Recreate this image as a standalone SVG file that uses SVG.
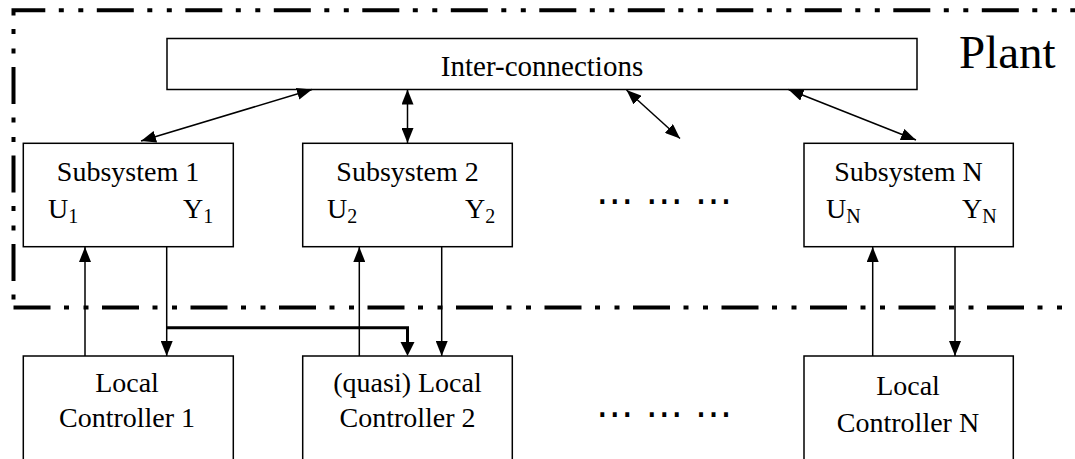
<svg xmlns="http://www.w3.org/2000/svg" width="1075" height="459" viewBox="0 0 1075 459">
<style>
.box{fill:#fff;stroke:#000;stroke-width:1.5}
.t{font-family:"Liberation Serif","Times New Roman",serif;font-size:28px;fill:#000}
.c{text-anchor:middle}
.sub{font-size:20px}
.ln{stroke:#000;stroke-width:1.5;fill:none}
.thick{stroke:#000;stroke-width:3;fill:none}
.bd{stroke:#000;stroke-width:4;fill:none;stroke-dasharray:37 13.5 5 14.5 5 13.5}
.dots{font-family:"DejaVu Sans",sans-serif;font-size:37.5px;fill:#000}
</style>
<defs>
<marker id="ah" viewBox="0 0 15 12" refX="15" refY="6" markerWidth="15" markerHeight="12" markerUnits="userSpaceOnUse" orient="auto-start-reverse">
<path d="M0,0 L15,6 L0,12 z" fill="#000"/>
</marker>
</defs>
<rect width="1075" height="459" fill="#fff"/>
<g id="plant-boundary">
<path class="bd" d="M13.5,307.5 L13.5,10.3 L1085,10.3" stroke-dashoffset="62"/>
<path class="bd" d="M13.5,307.5 L1085,307.5"/>
<text class="t" x="959" y="68" style="font-size:47px">Plant</text>
</g>
<g id="interconnections">
<rect class="box" x="167" y="38.5" width="750" height="51"/>
<text class="t c" x="542" y="76" style="font-size:29px">Inter-connections</text>
</g>
<g id="subsystem1">
<rect class="box" x="23.3" y="143.3" width="210" height="103.4"/>
<text class="t c" x="128" y="181">Subsystem 1</text>
<text class="t" x="48" y="218">U<tspan class="sub" dy="5">1</tspan></text>
<text class="t" x="183" y="218">Y<tspan class="sub" dy="5">1</tspan></text>
</g>
<g id="subsystem2">
<rect class="box" x="302.7" y="143.3" width="209.6" height="103.4"/>
<text class="t c" x="407.5" y="181">Subsystem 2</text>
<text class="t" x="327" y="218">U<tspan class="sub" dy="5">2</tspan></text>
<text class="t" x="465" y="218">Y<tspan class="sub" dy="5">2</tspan></text>
</g>
<g id="subsystemN">
<rect class="box" x="804" y="143.3" width="209.3" height="103.4"/>
<text class="t c" x="908.5" y="181">Subsystem N</text>
<text class="t" x="826" y="218">U<tspan class="sub" dy="5">N</tspan></text>
<text class="t" x="962" y="218">Y<tspan class="sub" dy="5">N</tspan></text>
</g>
<g id="ellipsis-top">
<text class="dots" x="596" y="204">… … …</text>
</g>
<g id="controller1">
<rect class="box" x="23.3" y="356" width="210" height="120"/>
<text class="t c" x="127" y="392">Local</text>
<text class="t c" x="127" y="427">Controller 1</text>
</g>
<g id="controller2">
<rect class="box" x="302.7" y="356" width="209.6" height="120"/>
<text class="t c" x="407.5" y="392">(quasi) Local</text>
<text class="t c" x="407.5" y="427">Controller 2</text>
</g>
<g id="controllerN">
<rect class="box" x="804" y="356" width="209.3" height="120"/>
<text class="t c" x="908" y="395">Local</text>
<text class="t c" x="908" y="432">Controller N</text>
</g>
<g id="ellipsis-bottom">
<text class="dots" x="596" y="417">… … …</text>
</g>
<g id="connectors">
<line class="ln" x1="312" y1="89.5" x2="141" y2="141" marker-start="url(#ah)" marker-end="url(#ah)"/>
<line class="ln" x1="407.5" y1="89.5" x2="407.5" y2="143" marker-start="url(#ah)" marker-end="url(#ah)"/>
<line class="ln" x1="626.5" y1="90" x2="680" y2="138.5" marker-start="url(#ah)" marker-end="url(#ah)"/>
<line class="ln" x1="788.5" y1="89.5" x2="916" y2="140" marker-start="url(#ah)" marker-end="url(#ah)"/>
<line class="ln" x1="85" y1="356" x2="85" y2="247" marker-end="url(#ah)"/>
<line class="ln" x1="166.7" y1="247" x2="166.7" y2="356" marker-end="url(#ah)"/>
<path class="thick" d="M166,327.7 L407.5,327.7 L407.5,343"/>
<path d="M400.5,342 L414.5,342 L407.5,356 z" fill="#000"/>
<line class="ln" x1="359.3" y1="356" x2="359.3" y2="247" marker-end="url(#ah)"/>
<line class="ln" x1="441.7" y1="247" x2="441.7" y2="356" marker-end="url(#ah)"/>
<line class="ln" x1="872.7" y1="356" x2="872.7" y2="247" marker-end="url(#ah)"/>
<line class="ln" x1="955" y1="247" x2="955" y2="356" marker-end="url(#ah)"/>
</g>
</svg>
